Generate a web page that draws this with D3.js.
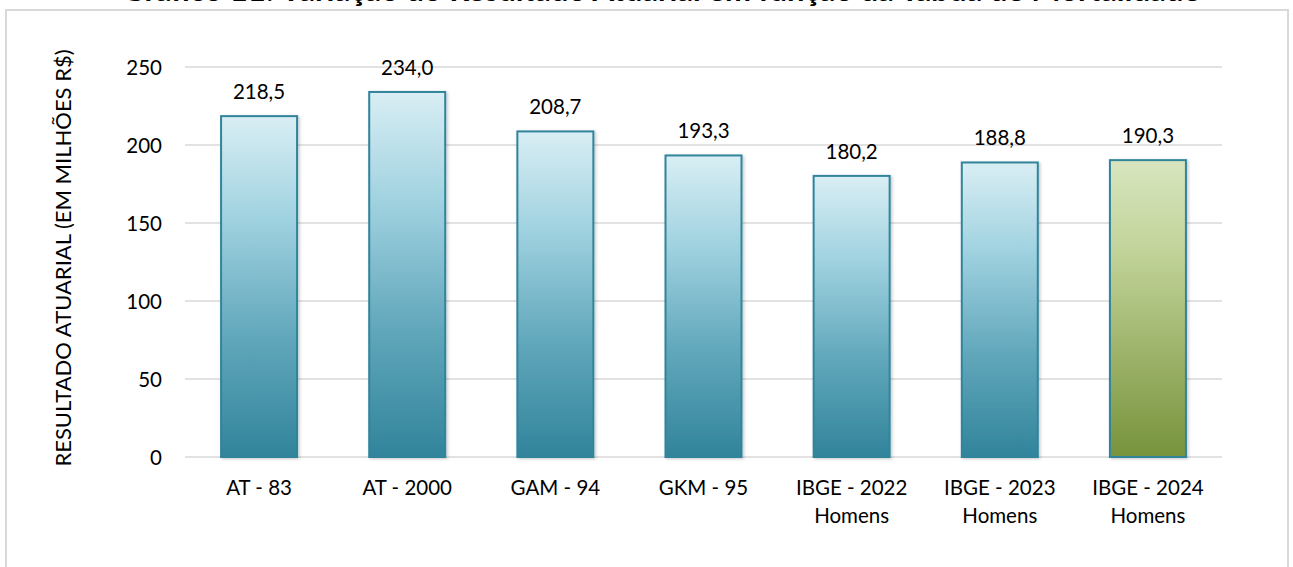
<!DOCTYPE html>
<html><head><meta charset="utf-8">
<script src="https://cdn.jsdelivr.net/npm/d3@7"></script>
<style>html,body{margin:0;padding:0;background:#fff;overflow:hidden}</style>
</head><body>
<svg id="c" width="1293" height="567"></svg>
<script>
const categories = [["AT - 83"],["AT - 2000"],["GAM - 94"],["GKM - 95"],["IBGE - 2022","Homens"],["IBGE - 2023","Homens"],["IBGE - 2024","Homens"]];
const values = [218.5, 234.0, 208.7, 193.3, 180.2, 188.8, 190.3];
const highlight = [false,false,false,false,false,false,true];
const yTicks = [0,50,100,150,200,250];
const title = "Gráfico 11: Variação do Resultado Atuarial em função da Tábua de Mortalidade";
const yTitle = "RESULTADO ATUARIAL (EM MILHÕES R$)";

const svg = d3.select("#c");
const font = "Lato, 'Open Sans', sans-serif";
const defs = svg.append("defs");
function grad(id, stops){
  const g = defs.append("linearGradient").attr("id", id).attr("x1",0).attr("y1",0).attr("x2",0).attr("y2",1);
  stops.forEach(s=>g.append("stop").attr("offset", s[0]).attr("stop-color", s[1]));
}
grad("gBlue", [[0,"#d9eef4"],[0.3,"#a0d2e0"],[0.65,"#61a7bb"],[1,"#31849b"]]);
grad("gGreen", [[0,"#d8e5bf"],[0.3,"#c2d49a"],[0.65,"#9db36a"],[1,"#77933c"]]);
const f = defs.append("filter").attr("id","sh").attr("x","-20%").attr("y","-20%").attr("width","140%").attr("height","140%");
f.append("feDropShadow").attr("dx",1.5).attr("dy",1).attr("stdDeviation",1.5).attr("flood-color","#000").attr("flood-opacity",0.22);

// frame
svg.append("rect").attr("x",6).attr("y",10).attr("width",1282).attr("height",570)
  .attr("fill","#fff").attr("stroke","#d9d9d9").attr("stroke-width",2);

svg.append("text").attr("x",661).attr("y",1).attr("text-anchor","middle")
  .attr("font-family",font).attr("font-weight","bold").attr("font-size",31).attr("fill","#000").text(title);

const x = d3.scaleBand().domain(d3.range(categories.length)).range([185,1222]).paddingInner(0.487).paddingOuter(0.2435);
const y = d3.scaleLinear().domain([0,250]).range([457,67]);

// gridlines
svg.append("g").selectAll("line").data(yTicks).join("line")
  .attr("x1",185).attr("x2",1222).attr("y1",d=>y(d)).attr("y2",d=>y(d))
  .attr("stroke","#d9d9d9").attr("stroke-width",1.5);

// y axis labels
const yAxis = svg.append("g").attr("transform","translate(162,0)")
  .call(d3.axisLeft(y).tickValues(yTicks).tickSize(0).tickPadding(0).tickFormat(d3.format("d")));
yAxis.select(".domain").remove();
yAxis.selectAll("text").attr("font-family",font).attr("font-size",20.5).attr("fill","#000").attr("dy","0.35em");

// bars
svg.append("g").selectAll("rect").data(values).join("rect")
  .attr("x",(d,i)=>x(i)).attr("width",x.bandwidth())
  .attr("y",d=>y(d)).attr("height",d=>y(0)-y(d))
  .attr("fill",(d,i)=>highlight[i]?"url(#gGreen)":"url(#gBlue)")
  .attr("stroke","#31849b").attr("stroke-width",2).attr("filter","url(#sh)");

// value labels
svg.append("g").selectAll("text").data(values).join("text")
  .attr("x",(d,i)=>x(i)+x.bandwidth()/2).attr("y",d=>y(d)-17)
  .attr("text-anchor","middle").attr("font-family",font).attr("font-size",20.5).attr("fill","#000")
  .text(d=>d3.format(".1f")(d).replace(".",","));

// category labels
const xg = svg.append("g").attr("transform","translate(0,457)")
  .call(d3.axisBottom(x).tickSize(0).tickFormat(""));
xg.select(".domain").remove();
xg.selectAll(".tick").each(function(d){
  const t = d3.select(this).append("text").attr("text-anchor","middle").attr("font-family",font)
    .attr("font-size",20.5).attr("fill","#000");
  categories[d].forEach((line,j)=>t.append("tspan").attr("x",0).attr("y",38+j*28).text(line));
});

// y title
svg.append("text").attr("transform","translate(71,258) rotate(-90)").attr("text-anchor","middle")
  .attr("font-family",font).attr("font-size",22).attr("fill","#000").text(yTitle);
</script>
</body></html>
